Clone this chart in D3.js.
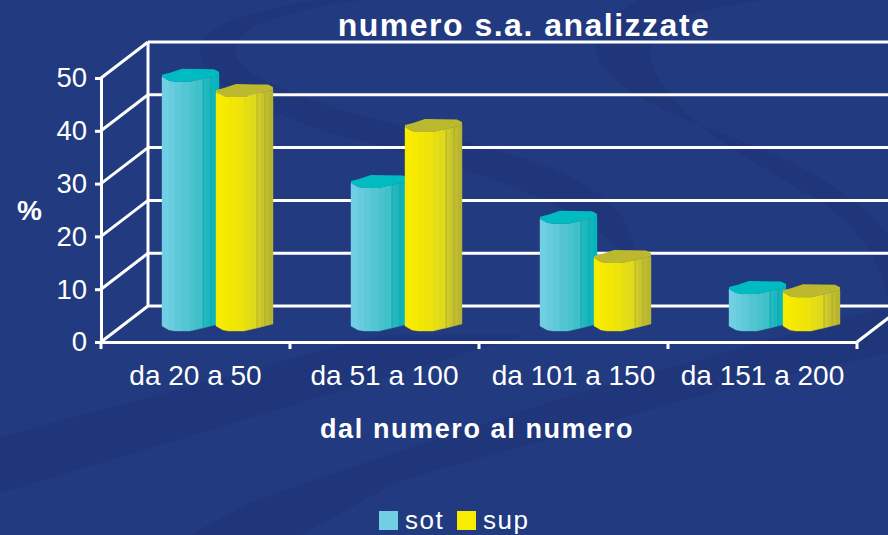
<!DOCTYPE html>
<html><head><meta charset="utf-8">
<script src="https://cdn.jsdelivr.net/npm/d3@7"></script>
<style>html,body{margin:0;padding:0;background:#213a80}svg{display:block}text{font-family:"Liberation Sans",Arial,sans-serif;fill:#fff}</style>
</head><body><svg id="c" width="888" height="535"></svg>
<script>
const categories = ["da 20 a 50","da 51 a 100","da 101 a 150","da 151 a 200"];
const sot = [47.2, 27.1, 20.3, 7];
const sup = [44.3, 37.7, 12.9, 6.4];
const seriesNames = ["sot","sup"];
const yTicks = [0,10,20,30,40,50];
const title = "numero s.a. analizzate";
const xTitle = "dal numero al numero";
const yTitle = "%";

const svg = d3.select("#c");
// background
svg.append("rect").attr("width",888).attr("height",535).attr("fill","#213a80");
const dark="#20367a";
[
 "M318 0 C270 8 215 20 203 40 C190 65 225 90 277 113 C340 140 400 150 456 167 C530 190 590 215 632 262 C640 225 610 195 560 172 C500 145 400 130 310 100 C260 80 225 65 238 40 C248 22 300 8 360 0 Z",
 "M640 0 C610 15 590 35 597 55 C610 85 650 105 700 125 C760 148 840 175 888 235 L888 300 C880 260 860 225 810 195 C760 165 700 135 670 95 C652 70 640 50 660 30 C680 12 725 6 765 0 Z",
 "M0 437 L362 340 L380 335 L525 335 L510 340 L0 493 Z",
 "M888 307 L770 340 C700 360 640 375 566 397 C450 435 340 470 250 503 L190 535 L300 535 C340 515 370 495 396 483 C480 455 560 440 623 417 C720 390 800 372 888 353 Z"
].forEach(d=>svg.append("path").attr("d",d).attr("fill",dark));

const x = d3.scaleBand().domain(categories).range([101,857]);
const y = d3.scaleLinear().domain([0,50]).range([342,78]);
const dx=47, dy=-36, baseLift=11;
const W="#fff", SW=3;
const grid = svg.append("g").attr("stroke",W).attr("stroke-width",SW).attr("fill","none");
yTicks.forEach(t=>{
  grid.append("line").attr("x1",101+dx).attr("x2",888).attr("y1",y(t)+dy).attr("y2",y(t)+dy);
  grid.append("line").attr("x1",101).attr("x2",101+dx).attr("y1",y(t)).attr("y2",y(t)+dy);
});
grid.append("line").attr("x1",101+dx).attr("x2",101+dx).attr("y1",y(50)+dy).attr("y2",y(0)+dy);
grid.append("line").attr("x1",857).attr("x2",857+dx).attr("y1",y(0)).attr("y2",y(0)+dy);

// bars
const lower=[[0,-5],[7,-1],[13,0],[28,0],[41,-3],[57,-7]];
const upper=[[57,-10],[52,-12.5],[20,-13],[8,-9],[0,-7]];
function lowerAt(px){for(let i=0;i<lower.length-1;i++){const a=lower[i],b=lower[i+1];if(px<=b[0])return a[1]+(b[1]-a[1])*(px-a[0])/(b[0]-a[0]);}return -7;}
const strips=[0,7,13,20,28,34,41,45,49,53,57];
const pal={
 sot:{c:["#70cfe2","#68ccde","#5ec9d8","#54c6d2","#49c3cc","#3ec1c8","#22bac0","#18b8be","#0eb6bc","#06b5bb"],cap:"#00bcc0",off:0},
 sup:{c:["#f8ec00","#f6ea00","#f2e604","#eee40c","#e6de14","#e0da1c","#d0cc2a","#c8c42e","#c0bd30","#b8b530"],cap:"#bdb92f",off:54}
};
function drawBar(name,i,v){
  const p=pal[name], x0=x(categories[i])+61+p.off, yt=y(v)-baseLift, yb=y(0)-baseLift;
  const g=svg.append("g");
  for(let s=0;s<strips.length-1;s++){
    const a=strips[s],b=strips[s+1];
    g.append("polygon").attr("fill",p.c[s]).attr("stroke",p.c[s]).attr("stroke-width",.4)
     .attr("points",[[x0+a,yt+lowerAt(a)],[x0+b,yt+lowerAt(b)],[x0+b,yb+lowerAt(b)],[x0+a,yb+lowerAt(a)]].join(" "));
  }
  [41,49].forEach(a=>g.append("line").attr("x1",x0+a).attr("x2",x0+a).attr("y1",yt+lowerAt(a)).attr("y2",yb+lowerAt(a)).attr("stroke",name==="sot"?"#1c9aa8":"#a8a52a").attr("stroke-width",.7));
  g.append("polygon").attr("fill",p.cap).attr("points",lower.concat(upper).map(q=>[x0+q[0],yt+q[1]]).join(" "));
}
categories.forEach((c,i)=>{drawBar("sot",i,sot[i]);drawBar("sup",i,sup[i]);});

// axes
const ax=svg.append("g").attr("transform","translate(101,0)").call(d3.axisLeft(y).tickValues(yTicks).tickSize(6).tickPadding(8).tickFormat(d3.format("d")));
ax.select(".domain").attr("stroke",W).attr("stroke-width",SW);
ax.selectAll("line").attr("stroke",W).attr("stroke-width",SW);
ax.selectAll("text").attr("font-size",27.5).attr("fill",W).style("font-family","Liberation Sans");
const bx=svg.append("g").attr("transform","translate(0,342)").call(d3.axisBottom(x).tickSize(0).tickPadding(23));
bx.select(".domain").attr("stroke",W).attr("stroke-width",SW);
bx.selectAll("text").attr("font-size",28).attr("fill",W).style("font-family","Liberation Sans");
[...categories.map(c=>x(c)),857].forEach(px=>svg.append("line").attr("x1",px).attr("x2",px).attr("y1",342).attr("y2",349).attr("stroke",W).attr("stroke-width",SW));

svg.append("text").attr("x",524).attr("y",36).attr("text-anchor","middle").attr("font-size",32).attr("font-weight","bold").attr("letter-spacing",1.5).text(title);
svg.append("text").attr("x",477).attr("y",438).attr("text-anchor","middle").attr("font-size",27).attr("font-weight","bold").attr("letter-spacing",1.6).text(xTitle);
svg.append("text").attr("x",29.5).attr("y",220).attr("text-anchor","middle").attr("font-size",28).attr("font-weight","bold").text(yTitle);

const lg=svg.append("g");
[[379,405],[457,483]].forEach((q,i)=>{
  lg.append("rect").attr("x",q[0]).attr("y",511).attr("width",19).attr("height",19).attr("fill",pal[seriesNames[i]].c[0]);
  lg.append("text").attr("x",q[1]).attr("y",529).attr("font-size",26).attr("letter-spacing",1.5).text(seriesNames[i]);
});
</script></body></html>
